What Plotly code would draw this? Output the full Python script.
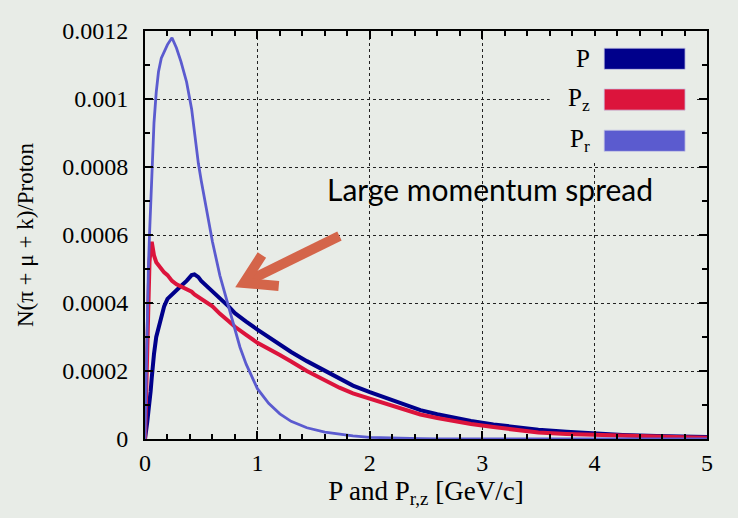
import plotly.graph_objects as go

# ---- data ----
momentum = [0, 0.01, 0.02, 0.03, 0.04, 0.05, 0.06, 0.07, 0.08, 0.1, 0.12, 0.145, 0.17, 0.2,
            0.24, 0.28, 0.32, 0.37, 0.415, 0.44, 0.475, 0.5, 0.55, 0.6, 0.667, 0.7, 0.75,
            0.8, 0.845, 0.9, 1.0, 1.1, 1.2, 1.3, 1.44, 1.6, 1.73, 1.85, 2.0, 2.15, 2.3,
            2.45, 2.6, 2.75, 2.9, 3.1, 3.34, 3.5, 3.75, 4.0, 4.25, 4.55, 4.8, 5.0]

p_total = [0, 0.00002, 0.00005, 0.00008, 0.000103, 0.00014, 0.00018, 0.00022, 0.00025,
           0.0003, 0.000325, 0.000367, 0.00039, 0.000412, 0.000426, 0.000438, 0.00045,
           0.000465, 0.000482, 0.000484, 0.000476, 0.000465, 0.00045, 0.000435, 0.000416,
           0.000405, 0.000388, 0.00037, 0.000357, 0.000345, 0.000322, 0.0003, 0.000278,
           0.000256, 0.000229, 0.0002, 0.000176, 0.000157, 0.000138, 0.00012, 0.0001,
           0.000085, 0.000073, 0.000062, 0.000053, 0.000043, 0.000033, 0.000027, 0.000021,
           0.000016, 0.000012, 0.0000088, 0.000007, 0.000006]

p_z = [0, 0.00016, 0.00031, 0.00043, 0.00052, 0.00056, 0.00058, 0.00056, 0.00054, 0.00052,
       0.00051, 0.0005, 0.00049, 0.000482, 0.000465, 0.000455, 0.000448, 0.00044, 0.000433,
       0.000425, 0.000418, 0.000412, 0.0004, 0.00039, 0.000368, 0.00036, 0.000345, 0.00033,
       0.000318, 0.000306, 0.000283, 0.000266, 0.000247, 0.000228, 0.0002, 0.000173,
       0.000151, 0.000134, 0.000118, 0.000104, 0.000088, 0.000072, 0.000062, 0.000052,
       0.000044, 0.000035, 0.000026, 0.000019, 0.000015, 0.000012, 0.000009, 0.000007,
       0.000005, 0.000004]

p_r = [0, 0.00018, 0.00035, 0.0005, 0.0006, 0.00069, 0.00078, 0.00086, 0.00093, 0.00102,
       0.00108, 0.00112, 0.00114, 0.00116, 0.00118, 0.00115, 0.00111, 0.00105, 0.00097,
       0.0009, 0.00081, 0.00076, 0.00067, 0.00058, 0.00048, 0.00044, 0.00038, 0.00032,
       0.00027, 0.00022, 0.000148, 0.000105, 0.000074, 0.000052, 0.000033, 0.00002,
       0.000014, 0.000009, 0.000005, 0.000003, 0.000002, 0.000001, 0, 0, 0, 0, 0, 0, 0,
       0, 0, 0, 0, 0]

series_names = ["P", "P<sub>z</sub>", "P<sub>r</sub>"]
series_colors = ["#00008B", "#DC143C", "#5B5BCF"]

x_tickvals = [0, 1, 2, 3, 4, 5]
x_ticktext = ["0", "1", "2", "3", "4", "5"]
y_tickvals = [0, 0.0002, 0.0004, 0.0006, 0.0008, 0.001, 0.0012]
y_ticktext = ["0", "0.0002", "0.0004", "0.0006", "0.0008", "0.001", "0.0012"]

annotation_text = "Large momentum spread"

BG = "#E8ECE7"
SERIF = "Liberation Serif"

fig = go.Figure()
for ys, name, col, w in zip([p_total, p_z, p_r], series_names, series_colors, [4, 4, 2.8]):
    fig.add_trace(go.Scatter(x=momentum, y=ys, mode="lines", name=name,
                             line=dict(color=col, width=w), showlegend=False))

axis_common = dict(
    showline=True, linecolor="black", linewidth=2, mirror="allticks",
    ticks="inside", ticklen=8, tickwidth=1.5, tickcolor="black",
    showgrid=True, gridcolor="#222222", gridwidth=1, griddash="dot",
    zeroline=False, tickfont=dict(family=SERIF, size=24, color="black"),
    automargin=False,
)

fig.update_xaxes(range=[0, 5], tickvals=x_tickvals, ticktext=x_ticktext,
                 minor=dict(dtick=0.2, ticks="inside", ticklen=5, tickcolor="black",
                            showgrid=False),
                 title=dict(text="P and P<sub>r,z</sub> [GeV/c]",
                            font=dict(family=SERIF, size=27, color="black"), standoff=3),
                 ticklabelstandoff=1,
                 **axis_common)
fig.update_yaxes(range=[0, 0.0012], tickvals=y_tickvals, ticktext=y_ticktext,
                 minor=dict(dtick=0.0001, ticks="inside", ticklen=5, tickcolor="black",
                            showgrid=False),
                 title=dict(text="N(π + μ + k)/Proton",
                            font=dict(family=SERIF, size=23, color="black"), standoff=22),
                 ticklabelstandoff=10,
                 **axis_common)

# custom legend (labels left of colour bars)
shapes = [dict(type="rect", xref="paper", yref="paper", x0=0.72, x1=0.982, y0=0.682, y1=0.988,
               fillcolor=BG, line=dict(width=0), layer="above")]
legend_rows = [0.932, 0.832, 0.731]
for yc, name, col in zip(legend_rows, series_names, series_colors):
    shapes.append(dict(type="rect", xref="paper", yref="paper", x0=0.817, x1=0.961,
                       y0=yc - 0.026, y1=yc + 0.026, fillcolor=col,
                       line=dict(color="rgba(200,200,230,0.8)", width=1), layer="above"))

# arrow (data coordinates)
arrow_color = "#D4654A"
tail = (1.73, 0.000597)
tip = (0.88, 0.000459)
barb_up = (1.04, 0.000541)
barb_low = (1.19, 0.00045)
shapes.append(dict(type="path", xref="x", yref="y",
                   path=f"M {tail[0]},{tail[1]} L {tip[0]},{tip[1]}",
                   line=dict(color=arrow_color, width=10), layer="above"))
shapes.append(dict(type="path", xref="x", yref="y",
                   path=f"M {barb_up[0]},{barb_up[1]} L {tip[0]},{tip[1]} L {barb_low[0]},{barb_low[1]}",
                   line=dict(color=arrow_color, width=10), layer="above"))

annotations = []
for yc, name in zip(legend_rows, series_names):
    annotations.append(dict(xref="paper", yref="paper", x=0.795, y=yc, text=name,
                            showarrow=False, xanchor="right", yanchor="middle",
                            font=dict(family=SERIF, size=25, color="black")))
annotations.append(dict(xref="x", yref="y", x=3.07, y=0.000735, text=annotation_text,
                        showarrow=False, xanchor="center", yanchor="middle",
                        font=dict(family="Lato", size=30, color="black")))

fig.update_layout(
    width=738, height=518,
    margin=dict(l=145, r=31, t=31, b=79),
    paper_bgcolor=BG, plot_bgcolor=BG,
    shapes=shapes, annotations=annotations,
    showlegend=False,
)

fig.write_html("out.html", config={"displayModeBar": False},
               post_script="document.body.style.margin='0';document.body.style.background='" + BG + "';")
